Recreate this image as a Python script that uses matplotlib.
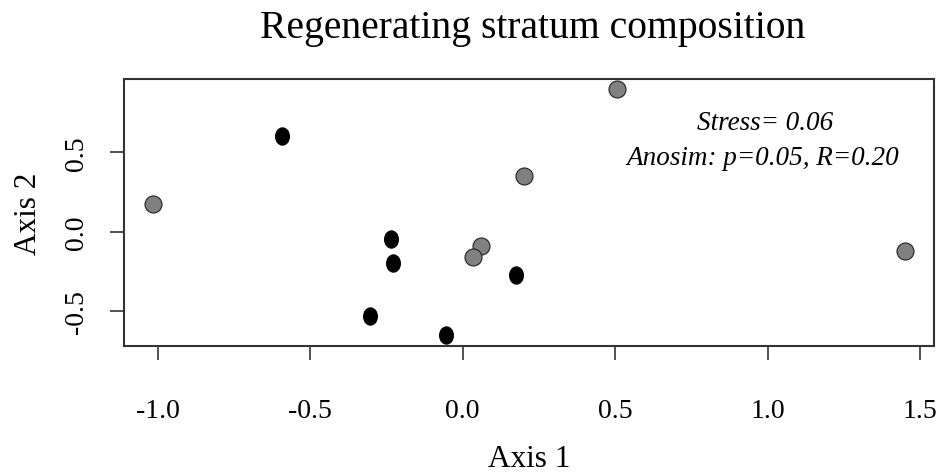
import numpy as np
import matplotlib
matplotlib.use("Agg")
import matplotlib.pyplot as plt
from matplotlib.path import Path

# NMDS site scores
grey_x = [-1.016, 0.505, 0.201, 0.062, 0.035, 1.450]
grey_y = [0.174, 0.898, 0.351, -0.091, -0.160, -0.122]
black_x = [-0.593, -0.236, -0.227, -0.304, -0.055, 0.175]
black_y = [0.604, -0.049, -0.202, -0.533, -0.653, -0.276]

xticks = [-1.0, -0.5, 0.0, 0.5, 1.0, 1.5]
yticks = [-0.5, 0.0, 0.5]

plt.rcParams['font.family'] = ['Liberation Serif', 'DejaVu Serif']

fig = plt.figure(figsize=(9.45, 4.77), dpi=100)
ax = fig.add_axes([0.1312, 0.2732, 0.8572, 0.5591])

# black points look like slightly tall ellipses
circ = Path.unit_circle()
ellipse = Path(circ.vertices * np.array([0.8, 1.0]), circ.codes)

ax.scatter(grey_x, grey_y, s=150, c='#808080', edgecolors='#222222', linewidths=0.8, zorder=3)
ax.scatter(black_x, black_y, s=150, marker=ellipse, c='black', edgecolors='black', zorder=3)

ax.set_xlim(-1.110, 1.546)
ax.set_ylim(-0.721, 0.963)
ax.set_xticks(xticks)
ax.set_xticklabels([f'{v:.1f}' for v in xticks])
ax.set_yticks(yticks)
ax.set_yticklabels([f'{v:.1f}' for v in yticks], rotation=90, va='center')
ax.tick_params(axis='both', length=10, width=1.2, labelsize=20, color='#333333')
ax.tick_params(axis='x', pad=28)
ax.tick_params(axis='y', pad=15)
for sp in ax.spines.values():
    sp.set_linewidth(1.5)
    sp.set_color('#333333')

ax.set_xlabel('Axis 1', fontsize=22.5, labelpad=15)
ax.set_ylabel('Axis 2', fontsize=22.5, labelpad=15)
fig.text(0.564, 0.941, 'Regenerating stratum composition', fontsize=28.5,
         ha='center', va='center')

ax.text(0.791, 0.835, 'Stress= 0.06', transform=ax.transAxes, ha='center', va='center',
        fontsize=19.5, style='italic')
ax.text(0.789, 0.705, 'Anosim: p=0.05, R=0.20', transform=ax.transAxes, ha='center', va='center',
        fontsize=19.5, style='italic')

fig.savefig('out.png', dpi=100)
